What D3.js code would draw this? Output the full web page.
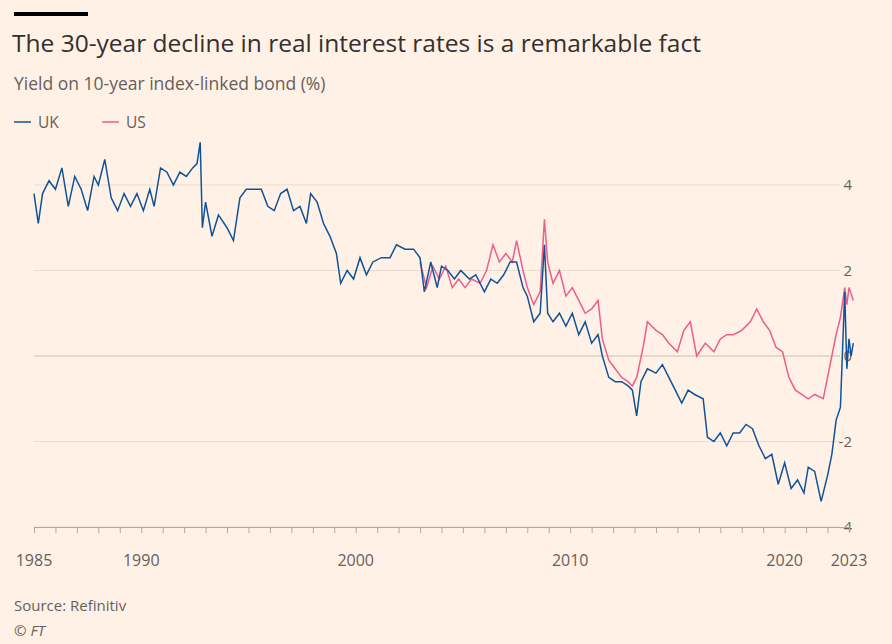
<!DOCTYPE html>
<html><head><meta charset="utf-8">
<script src="https://cdn.jsdelivr.net/npm/d3@7"></script>
<style>
body{margin:0;background:#fff1e5;font-family:"Open Sans",sans-serif;}
</style></head><body>
<svg id="chart" width="892" height="644"></svg>
<script>
// values: [year, yield %]
var ukData = [[1985.0,3.8],[1985.2,3.1],[1985.4,3.8],[1985.7,4.1],[1986,3.9],[1986.3,4.4],[1986.6,3.5],[1986.9,4.2],[1987.2,3.9],[1987.5,3.4],[1987.8,4.2],[1988,4.0],[1988.3,4.6],[1988.6,3.7],[1988.9,3.4],[1989.2,3.8],[1989.5,3.5],[1989.8,3.8],[1990.1,3.4],[1990.4,3.9],[1990.6,3.5],[1990.9,4.4],[1991.2,4.3],[1991.5,4.0],[1991.8,4.3],[1992.1,4.2],[1992.4,4.4],[1992.6,4.5],[1992.75,5.0],[1992.85,3.0],[1993,3.6],[1993.3,2.8],[1993.6,3.3],[1994,3.0],[1994.3,2.7],[1994.6,3.7],[1994.9,3.9],[1995.3,3.9],[1995.6,3.9],[1995.9,3.5],[1996.2,3.4],[1996.5,3.8],[1996.8,3.9],[1997.1,3.4],[1997.4,3.5],[1997.7,3.1],[1997.9,3.8],[1998.2,3.6],[1998.5,3.1],[1998.8,2.8],[1999.1,2.4],[1999.3,1.7],[1999.6,2.0],[1999.9,1.8],[2000.2,2.3],[2000.5,1.9],[2000.8,2.2],[2001.2,2.3],[2001.6,2.3],[2001.9,2.6],[2002.3,2.5],[2002.7,2.5],[2003.0,2.3],[2003.2,1.5],[2003.5,2.2],[2003.8,1.6],[2004,2.1],[2004.3,2.0],[2004.6,1.8],[2004.9,2.0],[2005.3,1.8],[2005.6,1.9],[2006,1.5],[2006.3,1.8],[2006.6,1.7],[2006.9,1.9],[2007.2,2.2],[2007.5,2.2],[2007.8,1.6],[2008,1.4],[2008.3,0.8],[2008.6,1.0],[2008.8,2.6],[2008.95,1.0],[2009.2,0.8],[2009.5,1.0],[2009.8,0.7],[2010.1,1.0],[2010.4,0.5],[2010.7,0.8],[2011,0.3],[2011.3,0.5],[2011.5,0.0],[2011.8,-0.5],[2012.1,-0.6],[2012.4,-0.6],[2012.7,-0.7],[2012.9,-0.8],[2013.1,-1.4],[2013.3,-0.6],[2013.6,-0.3],[2014,-0.4],[2014.3,-0.2],[2014.6,-0.5],[2014.9,-0.8],[2015.2,-1.1],[2015.5,-0.8],[2015.8,-0.9],[2016.2,-1.0],[2016.4,-1.9],[2016.7,-2.0],[2017,-1.8],[2017.3,-2.1],[2017.6,-1.8],[2017.9,-1.8],[2018.2,-1.6],[2018.5,-1.7],[2018.8,-2.1],[2019.1,-2.4],[2019.4,-2.3],[2019.7,-3.0],[2020,-2.5],[2020.3,-3.1],[2020.6,-2.9],[2020.9,-3.2],[2021.1,-2.6],[2021.4,-2.7],[2021.7,-3.4],[2022,-2.8],[2022.2,-2.3],[2022.4,-1.5],[2022.6,-1.2],[2022.8,1.5],[2022.9,-0.3],[2023.0,0.4],[2023.1,0.0],[2023.2,0.3]];
var usData = [[2003.0,2.2],[2003.3,1.6],[2003.6,2.1],[2003.9,1.8],[2004.2,2.1],[2004.5,1.6],[2004.8,1.8],[2005.1,1.6],[2005.4,1.8],[2005.8,1.7],[2006.1,2.0],[2006.4,2.6],[2006.7,2.2],[2007,2.4],[2007.3,2.2],[2007.5,2.7],[2007.8,2.0],[2008,1.6],[2008.3,1.2],[2008.6,1.5],[2008.8,3.2],[2008.95,2.2],[2009.2,1.7],[2009.5,2.0],[2009.8,1.4],[2010.1,1.6],[2010.4,1.3],[2010.7,1.0],[2011,1.1],[2011.3,1.3],[2011.5,0.4],[2011.8,-0.1],[2012.1,-0.3],[2012.4,-0.5],[2012.7,-0.6],[2012.9,-0.7],[2013.1,-0.5],[2013.4,0.2],[2013.6,0.8],[2014,0.6],[2014.3,0.5],[2014.6,0.3],[2015,0.1],[2015.3,0.6],[2015.6,0.8],[2015.9,0.0],[2016.3,0.3],[2016.7,0.1],[2017,0.4],[2017.3,0.5],[2017.6,0.5],[2018,0.6],[2018.4,0.8],[2018.7,1.1],[2019,0.8],[2019.3,0.6],[2019.6,0.2],[2019.9,0.1],[2020.2,-0.5],[2020.5,-0.8],[2020.8,-0.9],[2021.1,-1.0],[2021.4,-0.9],[2021.8,-1.0],[2022,-0.5],[2022.2,0.0],[2022.4,0.5],[2022.6,0.9],[2022.8,1.6],[2022.9,1.2],[2023.0,1.6],[2023.2,1.3]];
var yTicks = [4, 2, 0, -2, -4];
var xLabels = [1985, 1990, 2000, 2010, 2020, 2023];

var svg = d3.select('#chart');
var x = d3.scaleLinear().domain([1985, 2023]).range([34, 849]);
var y = d3.scaleLinear().domain([-4, 4]).range([527, 185]);

// header
svg.append('rect').attr('x', 14).attr('y', 12).attr('width', 74).attr('height', 4).attr('fill', '#000');
svg.append('text').attr('x', 12).attr('y', 52).attr('font-size', 24.5).attr('fill', '#33302e')
	.text('The 30-year decline in real interest rates is a remarkable fact');
svg.append('text').attr('x', 14).attr('y', 90).attr('font-size', 17.5).attr('fill', '#66605c')
	.text('Yield on 10-year index-linked bond (%)');

// legend
var legend = [['UK', '#0f5499', 14], ['US', '#eb5e8d', 102]];
legend.forEach(function(l) {
	svg.append('line').attr('x1', l[2]).attr('x2', l[2] + 17).attr('y1', 122).attr('y2', 122)
		.attr('stroke', l[1]).attr('stroke-width', 1.5);
	svg.append('text').attr('x', l[2] + 24).attr('y', 128).attr('font-size', 15.5).attr('fill', '#66605c').text(l[0]);
});

// grid + y labels
yTicks.forEach(function(t) {
	svg.append('line').attr('x1', 34).attr('x2', 840).attr('y1', y(t)).attr('y2', y(t))
		.attr('stroke', t === 0 ? '#ccc1b7' : '#e9dbcf').attr('stroke-width', 1);
	svg.append('text').attr('x', 852).attr('y', y(t) + 5).attr('text-anchor', 'end')
		.attr('font-size', 15).attr('fill', '#66605c').text(t);
});

// x axis
var xAxis = d3.axisBottom(x).tickValues(d3.range(1985, 2024)).tickSize(6).tickFormat('');
var gx = svg.append('g').attr('transform', 'translate(0,527)').call(xAxis);
gx.select('.domain').attr('stroke', '#b3a9a0');
gx.selectAll('.tick line').attr('stroke', '#b3a9a0');
xLabels.forEach(function(yr) {
	svg.append('text').attr('x', x(yr)).attr('y', 566).attr('text-anchor', 'middle')
		.attr('font-size', 16).attr('fill', '#66605c').text(yr);
});

// lines
var line = d3.line().x(function(d) { return x(d[0]); }).y(function(d) { return y(d[1]); });
svg.append('path').datum(usData).attr('d', line).attr('fill', 'none').attr('stroke', '#eb5e8d').attr('stroke-width', 1.5);
svg.append('path').datum(ukData).attr('d', line).attr('fill', 'none').attr('stroke', '#0f5499').attr('stroke-width', 1.5);

// footer
svg.append('text').attr('x', 14).attr('y', 611).attr('font-size', 15).attr('fill', '#66605c').text('Source: Refinitiv');
svg.append('text').attr('x', 14).attr('y', 636).attr('font-size', 15).attr('fill', '#66605c').attr('font-style', 'italic').text('© FT');
</script>
</body></html>
